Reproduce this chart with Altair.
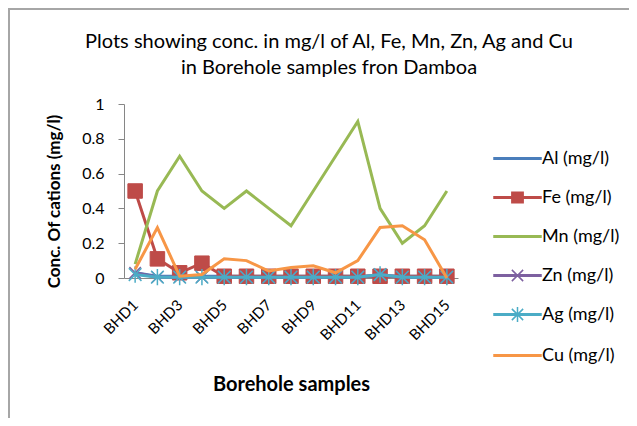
import altair as alt
import pandas as pd

samples = [f"BHD{i}" for i in range(1, 16)]
series = ["Al (mg/l)", "Fe (mg/l)", "Mn (mg/l)", "Zn (mg/l)", "Ag (mg/l)", "Cu (mg/l)"]
colors = ["#4A7EBB", "#BE4B48", "#98B954", "#7D60A0", "#4BACC6", "#F79646"]

al = [0.03, 0.01, 0.01, 0.01, 0.01, 0.01, 0.01, 0.01, 0.01, 0.01, 0.01, 0.01, 0.01, 0.01, 0.01]
fe = [0.5, 0.11, 0.03, 0.085, 0.01, 0.01, 0.01, 0.01, 0.01, 0.01, 0.01, 0.01, 0.01, 0.01, 0.01]
mn = [0.08, 0.5, 0.7, 0.5, 0.4, 0.5, 0.4, 0.3, 0.5, 0.7, 0.9, 0.4, 0.2, 0.3, 0.5]
zn = [0.03, 0.005, 0.005, 0.005, 0.005, 0.005, 0.005, 0.005, 0.005, 0.005, 0.005, 0.02, 0.005, 0.005, 0.005]
ag = [0.02, 0.005, 0.005, 0.005, 0.005, 0.005, 0.005, 0.005, 0.005, 0.005, 0.005, 0.02, 0.005, 0.005, 0.005]
cu = [0.05, 0.29, 0.01, 0.02, 0.11, 0.1, 0.04, 0.06, 0.07, 0.03, 0.1, 0.29, 0.3, 0.22, 0.0]

values = {"Al (mg/l)": al, "Fe (mg/l)": fe, "Mn (mg/l)": mn,
          "Zn (mg/l)": zn, "Ag (mg/l)": ag, "Cu (mg/l)": cu}

# legend symbol paths (line with marker)
BAR = "M-1,-0.032H1V0.032H-1Z"
legend_shapes = [
    BAR,
    BAR + "M-0.24,-0.22H0.24V0.22H-0.24Z",
    BAR,
    BAR + "M-0.24,-0.24L0.24,0.24M-0.24,0.24L0.24,-0.24",
    BAR + "M-0.24,-0.24L0.24,0.24M-0.24,0.24L0.24,-0.24M0,-0.32L0,0.32",
    BAR,
]

rows = []
for s in series:
    for smp, v in zip(samples, values[s]):
        rows.append({"sample": smp, "series": s, "value": v})
df = pd.DataFrame(rows)

FONT = "Lato"
GRAY = "#868686"

legend = alt.Legend(
    title=None, orient="none", legendX=369, legendY=30,
    symbolSize=2209, symbolStrokeWidth=1.5, labelFont=FONT, labelFontSize=18,
    labelColor="black", labelOffset=0, rowPadding=5, symbolOpacity=1,
)

stroke = alt.Stroke("series:N", scale=alt.Scale(domain=series, range=colors), legend=legend)
fill = alt.Fill("series:N", scale=alt.Scale(domain=series, range=colors), legend=legend)
shape = alt.Shape("series:N", scale=alt.Scale(domain=series, range=legend_shapes), legend=legend)

x = alt.X("sample:N", sort=samples, title="Borehole samples",
          axis=alt.Axis(values=samples[::2], labelAngle=-45, labelAlign="right",
                        labelBaseline="middle", ticks=False, labelPadding=24,
                        domainColor=GRAY, labelFont=FONT, labelFontSize=15,
                        labelColor="black", titleFont=FONT, titleFontSize=20,
                        titleFontWeight="bold", titleColor="black", titlePadding=32))
y = alt.Y("value:Q", title="Conc. Of cations (mg/l)",
          scale=alt.Scale(domain=[0, 1], nice=False),
          axis=alt.Axis(values=[0, 0.2, 0.4, 0.6, 0.8, 1], format=".1~f", grid=False,
                        tickSize=6, tickColor=GRAY, domainColor=GRAY, labelFont=FONT,
                        labelFontSize=16, labelColor="black", labelPadding=14,
                        titleFont=FONT, titleFontSize=17, titleFontWeight="bold",
                        titleColor="black", titlePadding=18, titleY=97))

base = alt.Chart(df)
layers = []
for s in series:
    sub = base.transform_filter(alt.datum.series == s)
    layers.append(sub.mark_line(strokeWidth=3).encode(x=x, y=y, stroke=stroke))
    if s == "Fe (mg/l)":
        layers.append(sub.mark_point(shape="square", size=210, filled=True, opacity=1,
                                     strokeWidth=1).encode(x=x, y=y, fill=fill, stroke=stroke))
    elif s == "Zn (mg/l)":
        layers.append(sub.mark_point(shape="M-1,-1L1,1M-1,1L1,-1", size=130, filled=False,
                                     opacity=1, strokeWidth=1.5).encode(x=x, y=y, stroke=stroke))
    elif s == "Ag (mg/l)":
        layers.append(sub.mark_point(shape="M-1,-1L1,1M-1,1L1,-1M0,-1.3L0,1.3", size=160,
                                     filled=False, opacity=1, strokeWidth=1.5)
                      .encode(x=x, y=y, stroke=stroke))

# invisible (clipped) carrier for the legend symbols
legend_layer = base.transform_calculate(value="5").mark_point(
    clip=True, opacity=1, strokeWidth=1.5).encode(x=x, y=y, stroke=stroke, fill=fill, shape=shape)

frame = alt.Chart(df).mark_rect(fill="transparent", stroke="#A6A6A6", strokeWidth=2).encode(
    x=alt.value(-115), x2=alt.value(600), y=alt.value(-95), y2=alt.value(400))

chart = alt.layer(frame, *layers, legend_layer).properties(
    width=334, height=174,
    title=alt.Title(
        ["Plots showing  conc.  in mg/l of Al, Fe, Mn, Zn, Ag and Cu",
         "in Borehole samples fron Damboa"],
        font=FONT, fontSize=20, fontWeight="normal", color="black",
        anchor="middle", frame="group", dx=38, lineHeight=26, offset=-70),
    padding={"left": 116, "top": 96, "right": 171, "bottom": 140},
    autosize=alt.AutoSizeParams(type="none"),
).configure_view(stroke=None)

chart.save("out.html", embed_options={"renderer": "svg", "actions": False})
